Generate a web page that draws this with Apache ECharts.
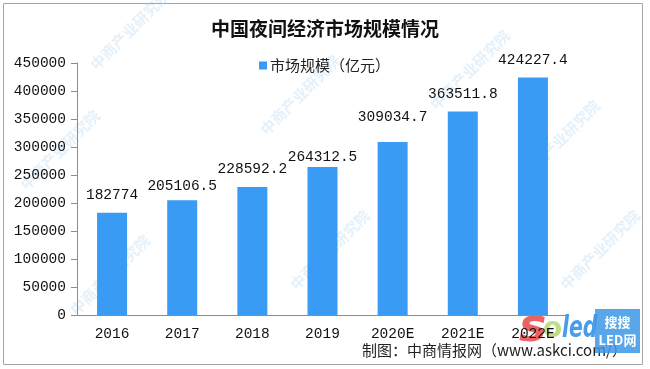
<!DOCTYPE html>
<html>
<head>
<meta charset="utf-8">
<script src="https://cdn.jsdelivr.net/npm/echarts@6/dist/echarts.min.js"></script>
<style>
html,body{margin:0;padding:0;background:#fff;}
#main{width:650px;height:369px;}
</style>
</head>
<body>
<div id="main"></div>
<script>
var years = ['2016', '2017', '2018', '2019', '2020E', '2021E', '2022E'];//横轴
var scale = [182774, 205106.5, 228592.2, 264312.5, 309034.7, 363511.8, 424227.4];//市场规模（亿元）
var yTicks = [0, 50000, 100000, 150000, 200000, 250000, 300000, 350000, 400000, 450000];
var seriesName = '市场规模（亿元）';
var titleText = '中国夜间经济市场规模情况';
var footText = '制图：中商情报网（www.askci.com/）';

var numFont = 'Liberation Mono';
var cjkFont = 'Noto Sans CJK SC';

// 数据标签微调（原图手动摆放的标签）
var labelNudge = {'2017': -4, '2019': -8, '2020E': 7};

var data = [];
for (var i = 0; i < years.length; i++) {
    var item = {value: scale[i]};
    if (labelNudge[years[i]] !== undefined) {
        item.label = {distance: 10 + labelNudge[years[i]]};
    }
    data.push(item);
}

// 水印
var marks = [];
var markPos = [[130, 30], [60, 150], [110, 275], [300, 95], [330, 250], [470, 70], [560, 140], [600, 250]];
for (var j = 0; j < markPos.length; j++) {
    marks.push({
        type: 'text', x: markPos[j][0], y: markPos[j][1], rotation: Math.PI / 4, silent: true,
        style: {text: '中商产业研究院', fill: 'rgba(90,160,225,0.16)', font: 'bold 15px "Noto Sans CJK SC"',
            align: 'center', verticalAlign: 'middle'}
    });
}

var myChart = echarts.init(document.getElementById('main'));
var option = {
    animation: false,
    backgroundColor: '#fff',
    title: {
        text: titleText,
        left: 'center',
        top: 14,
        textStyle: {fontFamily: cjkFont, fontSize: 19, fontWeight: 'bold', color: '#111'}
    },
    legend: {
        data: [seriesName],
        left: 254,
        top: 53,
        icon: 'rect',
        itemWidth: 8,
        itemHeight: 8,
        textStyle: {fontFamily: cjkFont, fontSize: 15, color: '#222', padding: [0, 0, 0, -2]}
    },
    grid: {left: 77, right: 82, top: 63, bottom: 54},
    xAxis: {
        type: 'category',
        data: years,
        axisLine: {lineStyle: {color: '#8c8c8c'}},
        axisTick: {length: 4, lineStyle: {color: '#8c8c8c'}},
        axisLabel: {interval: 0, margin: 12, fontFamily: numFont, fontSize: 14.5, color: '#111'}
    },
    yAxis: {
        type: 'value',
        min: yTicks[0],
        max: yTicks[yTicks.length - 1],
        interval: yTicks[1] - yTicks[0],
        axisLine: {show: true, lineStyle: {color: '#8c8c8c'}},
        axisTick: {show: true, length: 6, lineStyle: {color: '#8c8c8c'}},
        splitLine: {show: false},
        axisLabel: {
            margin: 11, fontFamily: numFont, fontSize: 14.5, color: '#111',
            formatter: function (v) { return String(v); }
        }
    },
    series: [{
        name: seriesName,
        type: 'bar',
        barWidth: 30,
        data: data,
        itemStyle: {color: '#399bf3'},
        label: {
            show: true,
            position: 'top',
            distance: 10,
            fontFamily: numFont,
            fontSize: 14.5,
            color: '#111'
        }
    }],
    graphic: marks.concat([
        {
            type: 'rect', silent: true,
            shape: {x: 3.5, y: 3.5, width: 639, height: 361},
            style: {fill: 'none', stroke: '#a6a6a6', lineWidth: 1}
        },
        {
            type: 'text', left: 362, top: 343, silent: true,
            style: {text: footText, fill: '#222', font: '15px "Noto Sans CJK SC"'}
        },
        {
            type: 'text', x: 519, y: 352, silent: true,
            style: {text: 's', fill: 'rgba(230,70,70,0.85)', font: 'italic bold 46px "DejaVu Sans"',
                verticalAlign: 'bottom'}
        },
        {
            type: 'text', x: 543, y: 344, silent: true,
            style: {text: 'o', fill: 'rgba(150,200,60,0.6)', font: 'bold 28px "DejaVu Sans"',
                verticalAlign: 'bottom'}
        },
        {
            type: 'text', x: 562, y: 344, scaleX: 0.68, silent: true,
            style: {text: 'led', fill: 'rgba(40,140,230,0.85)', font: 'italic bold 30px "DejaVu Sans"',
                verticalAlign: 'bottom'}
        },
        {
            type: 'rect', silent: true,
            shape: {x: 595, y: 309, width: 45, height: 44},
            style: {fill: 'rgba(60,150,230,0.85)'}
        },
        {
            type: 'text', x: 617.5, y: 331, silent: true,
            style: {text: '搜搜\nLED网', fill: '#fff', font: 'bold 13px "Noto Sans CJK SC"',
                align: 'center', verticalAlign: 'middle', lineHeight: 18}
        }
    ])
};
myChart.setOption(option);
</script>
</body>
</html>
